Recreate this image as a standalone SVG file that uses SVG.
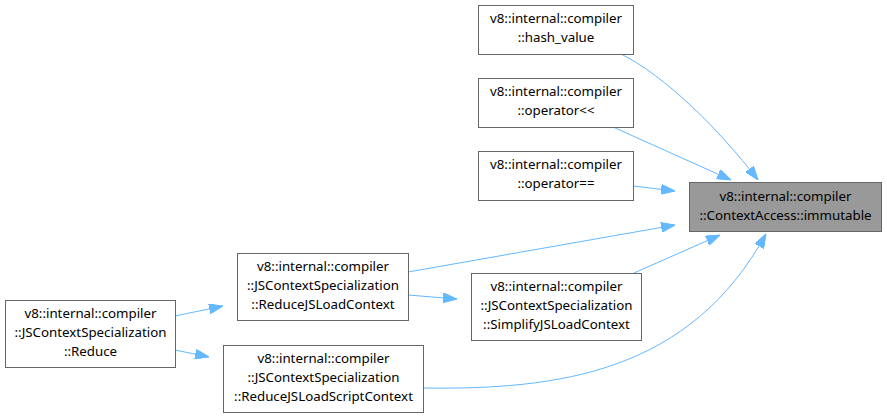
<svg xmlns="http://www.w3.org/2000/svg" width="887" height="418" viewBox="0 0 887 418">
<defs>
<style>
.n rect{fill:#fff;stroke:#666;stroke-width:1}
.n.g rect{fill:#999}
text{font-family:"Noto Sans","DejaVu Sans",sans-serif;font-size:13.3px;fill:#000;text-anchor:middle}
.e path{fill:none;stroke:#63b8ff;stroke-width:1}
</style>
<marker id="a" viewBox="0 0 14 10" refX="14" refY="5" markerWidth="14" markerHeight="10" markerUnits="userSpaceOnUse" orient="auto">
<path d="M0,0 L14,5 L0,10 Z" fill="#63b8ff" stroke="#63b8ff"/>
</marker>
</defs>
<rect width="887" height="418" fill="#fff"/>
<g class="e">
<path d="M621,54 C665,76 718,128 758,180" marker-end="url(#a)"/>
<path d="M613,127 L731,180" marker-end="url(#a)"/>
<path d="M633,186 L675,191" marker-end="url(#a)"/>
<path d="M408,272 L675,225" marker-end="url(#a)"/>
<path d="M634,273 L720,235" marker-end="url(#a)"/>
<path d="M423,388 C560,390 690,372 766,234" marker-end="url(#a)"/>
<path d="M175,316 L223,306" marker-end="url(#a)"/>
<path d="M175,350 L209,357" marker-end="url(#a)"/>
<path d="M408,295 L457,299" marker-end="url(#a)"/>
</g>
<g id="hash_value" class="n"><rect x="478.5" y="5.5" width="155" height="49"/><text x="556" y="23">v8::internal::compiler</text><text x="556" y="42">::hash_value</text></g>
<g id="operator_lshift" class="n"><rect x="478.5" y="78.5" width="155" height="49"/><text x="556" y="96">v8::internal::compiler</text><text x="556" y="115">::operator&lt;&lt;</text></g>
<g id="operator_eq" class="n"><rect x="478.5" y="151.5" width="155" height="49"/><text x="556" y="169">v8::internal::compiler</text><text x="556" y="188">::operator==</text></g>
<g id="immutable" class="n g"><rect x="689.5" y="182.5" width="192" height="49"/><text x="785.5" y="201">v8::internal::compiler</text><text x="785.5" y="220">::ContextAccess::immutable</text></g>
<g id="ReduceJSLoadContext" class="n"><rect x="237.5" y="253.5" width="171" height="67"/><text x="323" y="271">v8::internal::compiler</text><text x="323" y="290">::JSContextSpecialization</text><text x="323" y="309">::ReduceJSLoadContext</text></g>
<g id="Reduce" class="n"><rect x="5.5" y="300.5" width="170" height="67"/><text x="90.5" y="318">v8::internal::compiler</text><text x="90.5" y="337">::JSContextSpecialization</text><text x="90.5" y="356">::Reduce</text></g>
<g id="ReduceJSLoadScriptContext" class="n"><rect x="223.5" y="345.5" width="200" height="67"/><text x="323.5" y="363">v8::internal::compiler</text><text x="323.5" y="382">::JSContextSpecialization</text><text x="323.5" y="401">::ReduceJSLoadScriptContext</text></g>
<g id="SimplifyJSLoadContext" class="n"><rect x="471.5" y="273.5" width="170" height="67"/><text x="556.5" y="291">v8::internal::compiler</text><text x="556.5" y="310">::JSContextSpecialization</text><text x="556.5" y="329">::SimplifyJSLoadContext</text></g>
</svg>
